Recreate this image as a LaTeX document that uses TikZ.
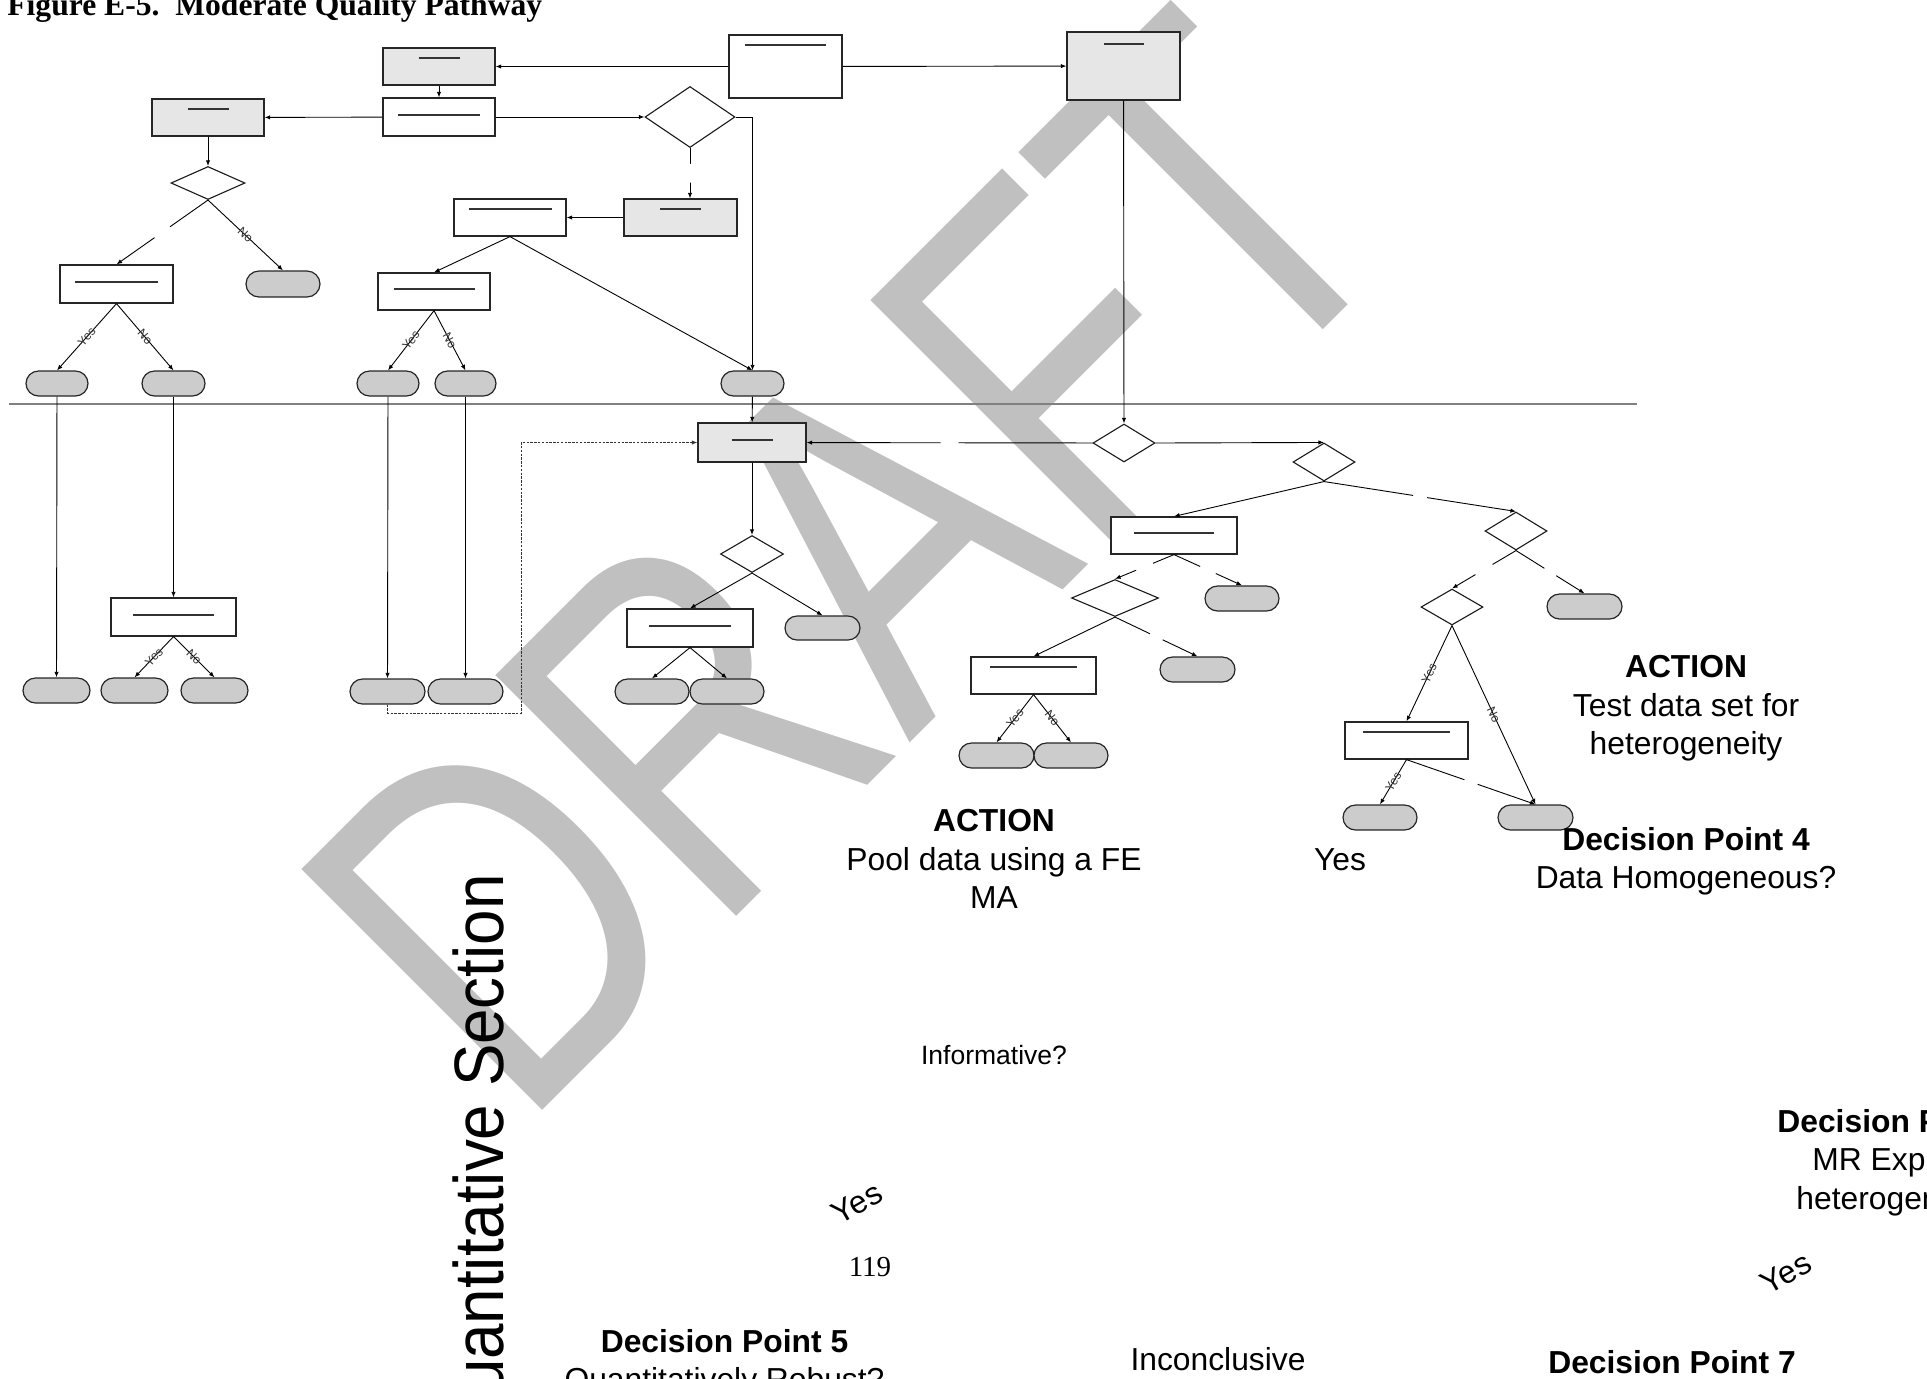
\documentclass[tikz,border=0pt]{standalone}
\usepackage{fontspec}
\usepackage{graphicx}
\usepackage{tikz}
\usetikzlibrary{shapes.geometric, shapes.misc, arrows.meta, positioning}
\setmainfont{Liberation Sans}
\newfontfamily\serifrm{Liberation Serif}
\definecolor{boxgray}{HTML}{E6E6E6}
\definecolor{termgray}{HTML}{CCCCCC}
\definecolor{wmark}{HTML}{C0C0C0}
\definecolor{sepline}{HTML}{808080}
\tikzstyle{process} = [rectangle, draw=black!85, fill=white, line width=0.6pt, inner sep=0pt]
\tikzstyle{shaded} = [process, fill=boxgray]
\tikzstyle{terminal} = [rounded rectangle, draw=black!85, fill=termgray, line width=0.6pt, inner sep=0pt]
\tikzstyle{decision} = [diamond, draw=black!90, fill=white, line width=0.55pt, inner sep=0pt]
\tikzstyle{arrow} = [line width=0.45pt, -{Latex[length=2.8pt,width=2.2pt]}]
\tikzstyle{note} = [font=\fontsize{15.9}{19.25}\selectfont, align=center, inner sep=0pt]
\tikzstyle{yn} = [font=\fontsize{6.1}{7}\selectfont, sloped, inner sep=0pt, text=black!80]
\tikzset{
  dims/.style 2 args={minimum width=#1*0.5pt, minimum height=#2*0.5pt},
  rule/.style 2 args={path picture={\draw[line width=0.7pt, black!80]
      ([shift={(-#1,#2)}]path picture bounding box.north) --
      ([shift={(#1,#2)}]path picture bounding box.north);}},
  gapmark/.style={circle, fill=white, inner sep=0pt, minimum size=#1*0.5pt}
}

\begin{document}
\begin{tikzpicture}[x=0.5pt, y=-0.5pt]
    \useasboundingbox (0,0) rectangle (1927,1378);

    % Watermark
    \node[rotate=45, anchor=base west, inner sep=0pt, text=wmark, font=\fontsize{247.5}{250}\selectfont] (draft) at (520,1133) {\scalebox{0.77}[1]{DRAFT}};

    % Title and divider
    \node[font=\serifrm\bfseries\fontsize{15.8}{18}\selectfont, anchor=base west, inner sep=0pt] (title) at (7,15) {Figure E-5.\ \ Moderate Quality Pathway};
    \coordinate (sepl) at (9,404);
    \coordinate (sepr) at (1637,404);
    \draw[sepline, line width=1pt] (sepl) -- (sepr);

    % Upper part
    \node (box1) [process, dims={113}{63}, rule={40.5}{10}] at (785.5,66.5) {};
    \node (box2) [shaded, dims={112}{37}, rule={20.5}{10}] at (439,66.5) {};
    \node (box3) [shaded, dims={113}{68}, rule={20}{12}] at (1123.5,66) {};
    \node (box4) [process, dims={112}{38}, rule={41}{17}] at (439,117) {};
    \node (box5) [shaded, dims={112}{37}, rule={20.5}{10}] at (208,117.5) {};
    \node (check1) [decision, dims={90}{61}] at (690,117) {};
    \node (box6) [shaded, dims={113}{37}, rule={20.5}{10}] at (680.5,217.5) {};
    \node (box7) [process, dims={112}{37}, rule={41.5}{10}] at (510,217.5) {};
    \node (check2) [decision, dims={74}{33}] at (208,183) {};
    \node (box8) [process, dims={113}{38}, rule={41.5}{17}] at (116.5,284) {};
    \node (stop1) [terminal, dims={74}{26}] at (283,284) {};
    \node (box9) [process, dims={112}{37}, rule={40.5}{16}] at (434,291.5) {};
    \node (stop2) [terminal, dims={62}{25}] at (57,383.5) {};
    \node (stop3) [terminal, dims={63}{25}] at (173.5,383.5) {};
    \node (stop4) [terminal, dims={62}{25}] at (388,383.5) {};
    \node (stop5) [terminal, dims={61}{25}] at (465.5,383.5) {};
    \node (stop6) [terminal, dims={63}{25}] at (752.5,383.5) {};

    % Lower left part
    \node (box10) [process, dims={125}{38}, rule={40.5}{17}] at (173.5,617) {};
    \node (stop7) [terminal, dims={67}{25}] at (56.5,690.5) {};
    \node (stop8) [terminal, dims={67}{25}] at (134.5,690.5) {};
    \node (stop9) [terminal, dims={67}{25}] at (214.5,690.5) {};
    \node (stop10) [terminal, dims={75}{25}] at (387.5,691.5) {};
    \node (stop11) [terminal, dims={75}{25}] at (465.5,691.5) {};
    \node (box11) [shaded, dims={108}{39}, rule={20.5}{17}] at (752,442.5) {};
    \node (check3) [decision, dims={63}{37}] at (752,554) {};
    \node (box12) [process, dims={126}{38}, rule={41}{17}] at (690,628) {};
    \node (stop12) [terminal, dims={75}{24}] at (822.5,628) {};
    \node (stop13) [terminal, dims={74}{25}] at (652,691.5) {};
    \node (stop14) [terminal, dims={74}{25}] at (727,691.5) {};

    % Lower right part
    \node (check4) [decision, dims={62}{38}] at (1124,443) {};
    \node (check5) [decision, dims={62}{38}] at (1324,462) {};
    \node (box13) [process, dims={126}{37}, rule={40}{16}] at (1174,535.5) {};
    \node (check6) [decision, dims={62}{38}] at (1516,531) {};
    \node (check7) [decision, dims={87}{37}] at (1115,598) {};
    \node (stop15) [terminal, dims={74}{25}] at (1242,598.5) {};
    \node (box14) [process, dims={125}{37}, rule={43.5}{10}] at (1033.5,675.5) {};
    \node (stop16) [terminal, dims={75}{25}] at (1197.5,669.5) {};
    \node (stop17) [terminal, dims={75}{25}] at (996.5,755.5) {};
    \node (stop18) [terminal, dims={74}{25}] at (1071,755.5) {};
    \node (stop19) [terminal, dims={75}{25}] at (1584.5,606.5) {};
    \node (check8) [decision, dims={62}{36}] at (1452,607) {};
    \node (box15) [process, dims={123}{37}, rule={43.5}{10}] at (1406.5,740.5) {};
    \node (stop20) [terminal, dims={74}{25}] at (1380,817.5) {};
    \node (stop21) [terminal, dims={75}{25}] at (1535.5,817.5) {};

    % Upper connectors
    \draw[arrow] (box1) -- (box2);
    \draw[arrow] (box1) -- (box3);
    \draw[arrow] (box2) -- (box4);
    \draw[arrow] (box4) -- (box5);
    \draw[arrow] (box4) -- (check1);
    \draw[arrow] (check1.east) -| (stop6.north);
    \draw[arrow] (check1.south) -- node[gapmark=19]{} (check1.south |- box6.north);
    \draw[arrow] (box6) -- (box7);
    \draw[arrow] (box5) -- (check2);
    \draw[arrow] (check2.south) -- node[gapmark=19]{} (box8.north);
    \draw[arrow] (check2.south) -- node[yn]{No} (stop1.north);
    \draw[arrow] (box8.south) -- node[yn]{Yes} (stop2.north);
    \draw[arrow] (box8.south) -- node[yn]{No} (stop3.north);
    \draw[arrow] (box7.south) -- (box9.north);
    \draw[arrow] (box7.south) -- (stop6.north);
    \draw[arrow] (box9.south) -- node[yn]{Yes} (stop4.north);
    \draw[arrow] (box9.south) -- node[yn]{No} (stop5.north);

    % Across the divider
    \draw[arrow] (stop2) -- (stop7);
    \draw[arrow] (stop3) -- (box10);
    \draw[arrow] (stop4) -- (stop10);
    \draw[arrow] (stop5) -- (stop11);
    \draw[arrow] (stop6) -- (box11);
    \draw[arrow] (box3) -- (check4);

    % Lower connectors
    \draw[arrow] (box10.south) -- node[yn]{Yes} (stop8.north);
    \draw[arrow] (box10.south) -- node[yn]{No} (stop9.north);
    \coordinate (loop) at (521,713);
    \draw[arrow, dash pattern=on 1.2pt off 0.7pt, line width=0.5pt, black!80] (stop10.south) |- (loop) |- (box11.west);
    \draw[arrow] (box11) -- (check3);
    \draw[arrow] (check3.south) -- (box12.north);
    \draw[arrow] (check3.south) -- (stop12.north);
    \draw[arrow] (box12.south) -- (stop13.north);
    \draw[arrow] (box12.south) -- (stop14.north);
    \draw[arrow] (check4) -- node[gapmark=18]{} (box11);
    \draw[arrow] (check4.east) -- (check5.north);
    \draw[arrow] (check5.south) -- (box13.north);
    \draw[arrow] (check5.south) -- node[gapmark=14]{} (check6.north);
    \draw[arrow] (box13.south) -- node[gapmark=18]{} (check7.north);
    \draw[arrow] (box13.south) -- node[gapmark=17]{} (stop15.north);
    \draw[arrow] (check7.south) -- (box14.north);
    \draw[arrow] (check7.south) -- node[gapmark=14]{} (stop16.north);
    \draw[arrow] (box14.south) -- node[yn]{Yes} (stop17.north);
    \draw[arrow] (box14.south) -- node[yn]{No} (stop18.north);
    \draw[arrow] (check6.south) -- node[gapmark=14]{} (stop19.north);
    \draw[arrow] (check6.south) -- node[gapmark=20]{} (check8.north);
    \draw[arrow] (check8.south) -- node[yn]{Yes} (box15.north);
    \draw[arrow] (check8.south) -- node[yn]{No} (stop21.north);
    \draw[arrow] (box15.south) -- node[yn]{Yes} (stop20.north);
    \draw[arrow] (box15.south) -- node[gapmark=14]{} (stop21.north);

    % Texts
    \node[rotate=90, anchor=base east, inner sep=0pt, font=\fontsize{35}{38}\selectfont] (qsec) at (503,874) {\scalebox{0.91}[1]{Quantitative Section}};
    \node[note, anchor=north] (act1) at (1686,655) {\textbf{ACTION}\\Test data set for\\heterogeneity};
    \node[note, anchor=north] (act2) at (994,809) {\textbf{ACTION}\\Pool data using a FE\\MA};
    \node[note, anchor=north] (dp4) at (1686,827) {\textbf{Decision Point 4}\\Data Homogeneous?};
    \node[note, anchor=base] (yes1) at (1340,870) {Yes};
    \node[note, anchor=base, font=\fontsize{13.25}{16}\selectfont] (inform) at (994,1064) {Informative?};
    \node[note, anchor=base west] (dp6a) at (1777,1132) {\textbf{Decision P}};
    \node[note, anchor=base west] (dp6b) at (1812,1170.5) {MR Exp};
    \node[note, anchor=base west] (dp6c) at (1796,1209) {heterogen};
    \node[note, rotate=30] (yes2) at (857,1203) {Yes};
    \node[note, rotate=30] (yes3) at (1786,1273) {Yes};
    \node[font=\serifrm\fontsize{14.5}{16}\selectfont, anchor=base, inner sep=0pt] (pagenum) at (870,1276) {119};
    \node[note, anchor=north] (dp5) at (724.5,1329) {\textbf{Decision Point 5}\\Quantitatively Robust?};
    \node[note, anchor=base] (inconc) at (1218,1370) {Inconclusive};
    \node[note, anchor=base] (dp7) at (1672,1373) {\textbf{Decision Point 7}};

\end{tikzpicture}
\end{document}
